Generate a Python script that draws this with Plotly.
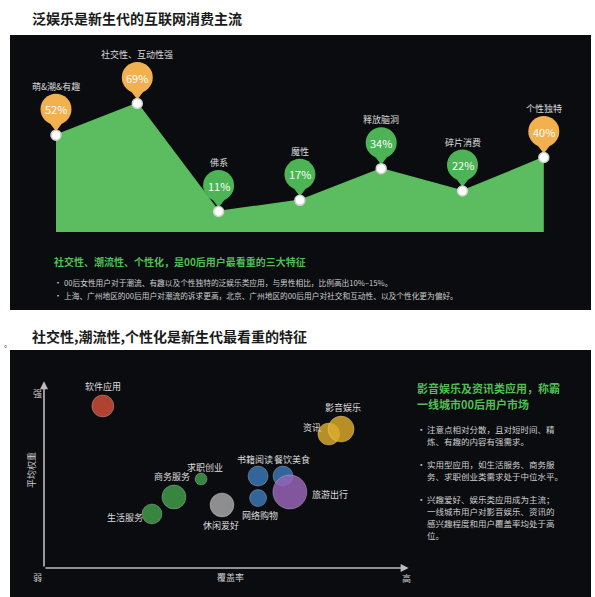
import plotly.graph_objects as go

W, H = 595, 597
FONT = "Noto Sans CJK SC"

# ---------- data: panel 1 ----------
traits = ["萌&潮&有趣", "社交性、互动性强", "佛系", "魔性", "释放脑洞", "碎片消费", "个性独特"]
trait_pct = [52, 69, 11, 17, 34, 22, 40]
trait_highlight = [True, True, False, False, False, False, True]

# ---------- data: panel 2 ----------
apps = ["软件应用", "求职创业", "商务服务", "生活服务", "休闲爱好", "书籍阅读",
        "网络购物", "餐饮美食", "旅游出行", "资讯", "影音娱乐"]
coverage = [16.3, 43.5, 36.0, 29.9, 49.3, 59.3, 59.3, 66.2, 68.1, 78.9, 82.3]
weight = [87.6, 48.1, 38.4, 29.2, 34.1, 49.7, 37.8, 49.7, 41.1, 72.4, 75.1]
bubble_size = [22, 12, 24, 20, 24, 20, 17, 20, 34, 22, 26]
app_group = ["tool", "work", "work", "work", "hobby", "media", "media", "media", "travel", "news", "news"]

# ---------- styles ----------
group_color = {
    "tool": "rgba(190,72,52,0.92)",
    "work": "rgba(62,150,68,0.88)",
    "hobby": "rgba(160,160,160,0.88)",
    "media": "rgba(58,118,178,0.85)",
    "travel": "rgba(150,100,182,0.85)",
    "news": "rgba(222,172,44,0.82)",
}
label_shift = [(0, 19), (4, 12), (-2, 20), (-27, -4), (-1, -21), (-3, 17),
               (2, -17), (9, 17), (40, -3), (-17, 7), (2, 22)]

BG = "#0b0c10"
GREEN = "#5bbd5f"
PIN_GREEN = "#4cb455"
PIN_ORANGE = "#f2b04e"
HEAD_GREEN = "#4fbf55"


def px_x(p):
    return p / W


def px_y(p):
    return 1 - p / H


# panel-1 axis geometry (pixel layout)
P1_LEFT, P1_RIGHT, P1_TOP, P1_BOT = 10, 591, 35, 310
X_FIRST, X_STEP = 56, 81.3
Y_ZERO, Y_SCALE = 232, 1.862  # px for 0%, px per %
x1_lo = -(X_FIRST - P1_LEFT) / X_STEP
x1_hi = x1_lo + (P1_RIGHT - P1_LEFT) / X_STEP
y1_lo = -(P1_BOT - Y_ZERO) / Y_SCALE
y1_hi = (Y_ZERO - P1_TOP) / Y_SCALE
pin_off = 26 / Y_SCALE
tail_off = 9 / Y_SCALE

xs = list(range(len(traits)))
pin_colors = [PIN_ORANGE if h else PIN_GREEN for h in trait_highlight]

fig = go.Figure()

fig.add_trace(go.Scatter(
    x=xs, y=trait_pct, mode="lines", fill="tozeroy",
    line=dict(color=GREEN, width=1.5), fillcolor=GREEN,
    xaxis="x", yaxis="y", hoverinfo="skip", cliponaxis=False))
fig.add_trace(go.Scatter(
    x=xs, y=[v + tail_off for v in trait_pct], mode="markers",
    marker=dict(symbol="triangle-down", size=10, color=pin_colors, line=dict(width=0)),
    xaxis="x", yaxis="y", hoverinfo="skip", cliponaxis=False))
fig.add_trace(go.Scatter(
    x=xs, y=[v + pin_off for v in trait_pct], mode="markers",
    marker=dict(symbol="circle", size=31, color=pin_colors, line=dict(width=0)),
    xaxis="x", yaxis="y", hoverinfo="skip", cliponaxis=False))
fig.add_trace(go.Scatter(
    x=xs, y=trait_pct, mode="markers",
    marker=dict(symbol="circle", size=10, color="white", line=dict(color="#cfcfcf", width=1.5)),
    xaxis="x", yaxis="y", hoverinfo="skip", cliponaxis=False))

# panel-2 bubbles
for i, name in enumerate(apps):
    fig.add_trace(go.Scatter(
        x=[coverage[i]], y=[weight[i]], mode="markers",
        marker=dict(size=bubble_size[i], color=group_color[app_group[i]],
                    line=dict(color="rgba(255,255,255,0.25)", width=1)),
        xaxis="x2", yaxis="y2", hoverinfo="skip", cliponaxis=False, name=name))

ann = []
for i, t in enumerate(traits):
    ann.append(dict(x=i, y=trait_pct[i], xref="x", yref="y", text=f"{trait_pct[i]}%",
                    showarrow=False, yshift=26, font=dict(family=FONT, size=11, color="white")))
    ann.append(dict(x=i, y=trait_pct[i], xref="x", yref="y", text=t,
                    showarrow=False, yshift=49, font=dict(family=FONT, size=9, color="#d8d8d8")))

for i, name in enumerate(apps):
    dx, dy = label_shift[i]
    ann.append(dict(x=coverage[i], y=weight[i], xref="x2", yref="y2", text=name,
                    showarrow=False, xshift=dx, yshift=dy,
                    font=dict(family=FONT, size=9, color="#dddddd")))

# axis arrows panel 2
ann.append(dict(x=101, y=0, ax=0, ay=0, xref="x2", yref="y2", axref="x2", ayref="y2",
                text="", showarrow=True, arrowhead=2, arrowsize=1, arrowwidth=1.6,
                arrowcolor="#bdbdbd"))
ann.append(dict(x=0, y=101, ax=0, ay=0, xref="x2", yref="y2", axref="x2", ayref="y2",
                text="", showarrow=True, arrowhead=2, arrowsize=1, arrowwidth=1.6,
                arrowcolor="#bdbdbd"))


def txt(x, y, s, size, color, bold=False, anchor="left", angle=0):
    if bold:
        s = f"<b>{s}</b>"
    ann.append(dict(x=px_x(x), y=px_y(y), xref="paper", yref="paper", text=s,
                    showarrow=False, xanchor=anchor, yanchor="middle", textangle=angle,
                    font=dict(family=FONT, size=size, color=color)))


# titles
txt(30, 18, "泛娱乐是新生代的互联网消费主流", 14, "#1a1a1a", bold=True)
txt(30, 336, "社交性,潮流性,个性化是新生代最看重的特征", 14, "#1a1a1a", bold=True)
txt(2, 343, "。", 8, "#555555")

# panel 1 text
txt(52, 261, "社交性、潮流性、个性化，是00后用户最看重的三大特征", 10, HEAD_GREEN, bold=True)
txt(52, 282, "•", 8, "#cccccc")
txt(62, 282, "00后女性用户对于潮流、有趣以及个性独特的泛娱乐类应用，与男性相比，比例高出10%–15%。", 7.7, "#cccccc")
txt(52, 295, "•", 8, "#cccccc")
txt(62, 295, "上海、广州地区的00后用户对潮流的诉求更高，北京、广州地区的00后用户对社交和互动性、以及个性化更为偏好。", 7.7, "#cccccc")

# panel 2 text
txt(415, 388, "影音娱乐及资讯类应用，称霸", 11, HEAD_GREEN, bold=True)
txt(415, 404, "一线城市00后用户市场", 11, HEAD_GREEN, bold=True)
bullets = [
    (429, ["注意点相对分散，且对短时间、精", "炼、有趣的内容有强需求。"]),
    (464, ["实用型应用，如生活服务、商务服", "务、求职创业类需求处于中位水平。"]),
    (499, ["兴趣爱好、娱乐类应用成为主流；", "一线城市用户对影音娱乐、资讯的",
           "感兴趣程度和用户覆盖率均处于高", "位。"]),
]
for y0, lines in bullets:
    txt(415, y0, "•", 8.5, "#cccccc")
    for k, line in enumerate(lines):
        txt(425, y0 + 12 * k, line, 8.5, "#cccccc")

# axis labels panel 2
txt(37, 393, "强", 9, "#cccccc", anchor="center")
txt(37, 577, "弱", 9, "#cccccc", anchor="center")
txt(31, 470, "平均权重", 9, "#cccccc", anchor="center", angle=-90)
txt(230, 577, "覆盖率", 9, "#cccccc", anchor="center")
txt(406, 578, "高", 9, "#cccccc", anchor="center")

shapes = [
    dict(type="rect", xref="paper", yref="paper", x0=px_x(P1_LEFT), x1=px_x(P1_RIGHT),
         y0=px_y(P1_BOT), y1=px_y(P1_TOP), fillcolor=BG, line=dict(width=0), layer="below"),
    dict(type="rect", xref="paper", yref="paper", x0=px_x(10), x1=px_x(591),
         y0=0, y1=px_y(350), fillcolor=BG, line=dict(width=0), layer="below"),
]

hidden = dict(visible=False, showgrid=False, zeroline=False, fixedrange=True)
fig.update_layout(
    width=W, height=H, margin=dict(l=0, r=0, t=0, b=0),
    paper_bgcolor="white", plot_bgcolor="rgba(0,0,0,0)", showlegend=False,
    xaxis=dict(domain=[px_x(P1_LEFT), px_x(P1_RIGHT)], range=[x1_lo, x1_hi], **hidden),
    yaxis=dict(domain=[px_y(P1_BOT), px_y(P1_TOP)], range=[y1_lo, y1_hi], **hidden),
    xaxis2=dict(domain=[px_x(44), px_x(405)], range=[0, 100], anchor="y2", **hidden),
    yaxis2=dict(domain=[px_y(568), px_y(383)], range=[0, 100], anchor="x2", **hidden),
    shapes=shapes, annotations=ann,
)

fig.write_html("out.html")
